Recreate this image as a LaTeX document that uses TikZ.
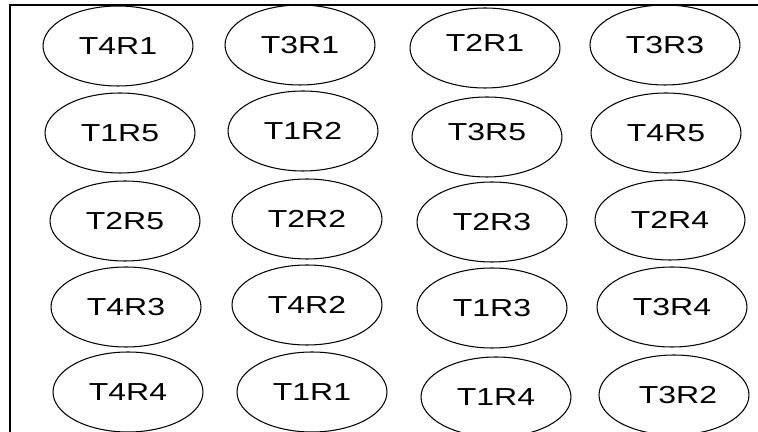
\documentclass[tikz,border=0pt]{standalone}
\usepackage{fontspec}
\setmainfont{Liberation Sans}
\usetikzlibrary{shapes.geometric}

\newcommand{\plotlbl}[1]{\scalebox{1.3}[1]{#1}}

\begin{document}
\begin{tikzpicture}[
    x=0.02cm, y=-0.02cm,
    plot/.style={ellipse, draw, line width=0.6pt,
                 minimum width=3cm, minimum height=1.6cm,
                 inner sep=0pt, text centered,
                 font=\fontsize{14}{14}\selectfont},
    frame/.style={line width=0.6pt}
]
    \useasboundingbox (0,0) rectangle (758,432);

    % kader links en boven
    \draw[frame] (10,440) -- (10,5) -- (760,5);

    % rij 1
    \node[plot] (t4r1) at (118,46)  {\plotlbl{T4R1}};
    \node[plot] (t3r1) at (300,45)  {\plotlbl{T3R1}};
    \node[plot] (t2r1) at (485,48)  {\raisebox{0.1cm}[\height][\depth]{\plotlbl{T2R1}}};
    \node[plot] (t3r3) at (665,45)  {\plotlbl{T3R3}};

    % rij 2
    \node[plot] (t1r5) at (120,133) {\plotlbl{T1R5}};
    \node[plot] (t1r2) at (303,131) {\plotlbl{T1R2}};
    \node[plot] (t3r5) at (487,137) {\raisebox{0.1cm}[\height][\depth]{\plotlbl{T3R5}}};
    \node[plot] (t4r5) at (666,133) {\plotlbl{T4R5}};

    % rij 3
    \node[plot] (t2r5) at (125,221) {\plotlbl{T2R5}};
    \node[plot] (t2r2) at (307,219) {\plotlbl{T2R2}};
    \node[plot] (t2r3) at (492,222) {\plotlbl{T2R3}};
    \node[plot] (t2r4) at (670,220) {\plotlbl{T2R4}};

    % rij 4
    \node[plot] (t4r3) at (126,307) {\plotlbl{T4R3}};
    \node[plot] (t4r2) at (307,305) {\plotlbl{T4R2}};
    \node[plot] (t1r3) at (492,308) {\plotlbl{T1R3}};
    \node[plot] (t3r4) at (672,307) {\plotlbl{T3R4}};

    % rij 5
    \node[plot] (t4r4) at (128,392) {\plotlbl{T4R4}};
    \node[plot] (t1r1) at (312,392) {\plotlbl{T1R1}};
    \node[plot] (t1r4) at (496,397) {\plotlbl{T1R4}};
    \node[plot] (t3r2) at (674,395) {\hspace{0.16cm}\plotlbl{T3R2}};

\end{tikzpicture}
\end{document}
